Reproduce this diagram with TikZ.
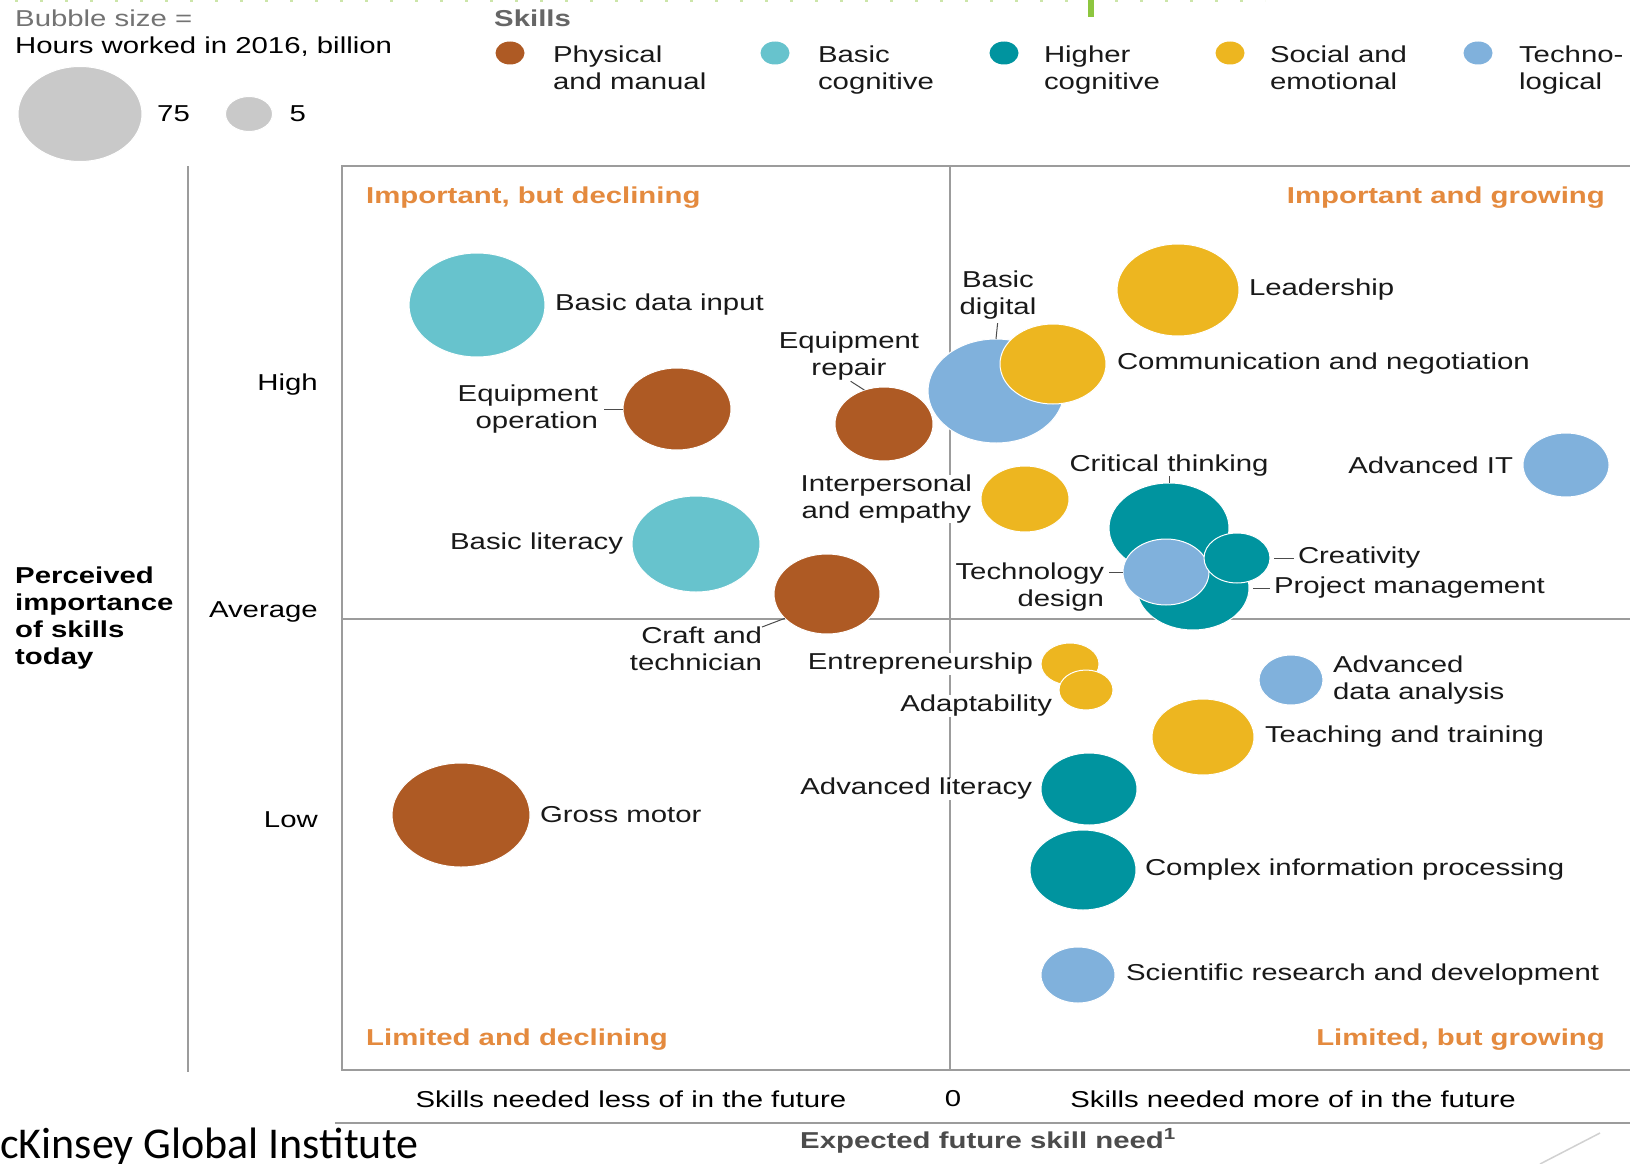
\documentclass[tikz,border=0pt]{standalone}
\usepackage{fontspec}
\setmainfont{Liberation Sans}[FakeStretch=1.276]
\newfontfamily\slidefont{Carlito}
\usetikzlibrary{shapes.geometric,positioning}
\definecolor{manual}{HTML}{AE5A24}
\definecolor{basiccog}{HTML}{67C3CD}
\definecolor{highcog}{HTML}{00949F}
\definecolor{social}{HTML}{EDB620}
\definecolor{techno}{HTML}{80B1DC}
\definecolor{sizegray}{HTML}{C9C9C9}
\definecolor{quadorange}{HTML}{E48A3E}
\definecolor{rulegray}{HTML}{9C9C9C}
\definecolor{titlegreen}{HTML}{8DC63F}
\newcommand{\chartfont}{\fontsize{23}{27}\selectfont}

\begin{document}
\begin{tikzpicture}[x=1pt,y=-1pt,font=\chartfont]
  \tikzstyle{bubble}=[ellipse,draw=white,line width=1pt,inner sep=0pt,outer sep=0pt]
  \tikzstyle{legdot}=[ellipse,inner sep=0pt,minimum width=29pt,minimum height=23pt]
  \tikzstyle{lbl}=[inner sep=0pt,outer sep=0pt,fill=white,text=black!90,align=center]
  \tikzstyle{quad}=[inner sep=0pt,text=quadorange,font=\chartfont\bfseries]
  \tikzstyle{leader}=[draw=black!70,line width=1pt]
  \tikzstyle{axisline}=[draw=rulegray,line width=2pt]
  \tikzstyle{midline}=[draw=rulegray,line width=1.5pt]

  \path[use as bounding box,fill=white] (0,0) rectangle (1630,1164);

  % cut-off title strip
  \draw[titlegreen!45,line width=2pt,dash pattern=on 3pt off 22pt] (15,1) -- (1265,1);
  \fill[titlegreen] (1088,0) rectangle (1094,17);

  % bubble size key
  \node[anchor=base west,inner sep=0pt,text=black!55] (bsize) at (15,27) {Bubble size =};
  \node[anchor=base west,inner sep=0pt] (hours) at (15,53) {Hours worked in 2016, billion};
  \node[bubble,fill=sizegray,minimum width=124pt,minimum height=95pt] (big) at (80,114) {};
  \node[inner sep=0pt,right=15pt of big] (n75) {75};
  \node[bubble,fill=sizegray,minimum width=47pt,minimum height=35pt] (small) at (249,114) {};
  \node[inner sep=0pt,right=17pt of small] (n5) {5};

  % skill categories
  \node[anchor=base west,inner sep=0pt,text=black!60,font=\chartfont\bfseries] (skills) at (494,27) {Skills};
  \node[legdot,fill=manual] (kman) at (510,53) {};
  \node[lbl,align=left,anchor=north west] (kmanl) at (553,46) {Physical\\and manual};
  \node[legdot,fill=basiccog] (kbas) at (775,53) {};
  \node[lbl,align=left,anchor=north west] (kbasl) at (818,46) {Basic\\cognitive};
  \node[legdot,fill=highcog] (khig) at (1004,53) {};
  \node[lbl,align=left,anchor=north west] (khigl) at (1044,46) {Higher\\cognitive};
  \node[legdot,fill=social] (ksoc) at (1230,53) {};
  \node[lbl,align=left,anchor=north west] (ksocl) at (1270,46) {Social and\\emotional};
  \node[legdot,fill=techno] (ktec) at (1478,53) {};
  \node[lbl,align=left,anchor=north west] (ktecl) at (1519,46) {Techno-\\logical};

  % frame and quadrants
  \draw[axisline] (1630,166) -- (342,166) -- (342,1070) -- (1630,1070);
  \draw[midline] (950,166) -- (950,1070);
  \draw[midline] (342,619) -- (1630,619);
  \draw[midline] (188,166) -- (188,1072);
  \draw[axisline] (335,1123) -- (1630,1123);
  \node[quad,anchor=west] (qid) at (366,198) {Important, but declining};
  \node[quad,anchor=east] (qig) at (1605,198) {Important and growing};
  \node[quad,anchor=west] (qld) at (366,1040) {Limited and declining};
  \node[quad,anchor=east] (qlg) at (1605,1040) {Limited, but growing};

  % axes
  \node[anchor=east,inner sep=0pt] (yhigh) at (318,385) {High};
  \node[anchor=east,inner sep=0pt] (yavg) at (318,612) {Average};
  \node[anchor=east,inner sep=0pt] (ylow) at (318,820) {Low};
  \node[anchor=west,inner sep=0pt,align=left,font=\chartfont\bfseries] (ytitle) at (15,618) {Perceived\\importance\\of skills\\today};
  \node[inner sep=0pt] (xless) at (631,1099) {Skills needed less of in the future};
  \node[inner sep=0pt] (xzero) at (953,1099) {0};
  \node[inner sep=0pt] (xmore) at (1293,1099) {Skills needed more of in the future};
  \node[inner sep=0pt,text=black!70,font=\chartfont\bfseries] (xtitle) at (988,1141) {Expected future skill need\textsuperscript{1}};

  % slide footer
  \node[anchor=base west,inner sep=0pt,font=\slidefont\fontsize{44}{50}\selectfont] (mgi) at (0,1158) {cKinsey Global Institute};
  \draw[black!18,line width=1.5pt] (1540,1164) -- (1600,1133);

  % bubbles
  \node[bubble,fill=manual,minimum width=108pt,minimum height=82pt] (eqop) at (677,409) {};
  \node[bubble,fill=manual,minimum width=98pt,minimum height=74pt] (eqrep) at (884,424) {};
  \node[bubble,fill=manual,minimum width=106pt,minimum height=80pt] (craft) at (827,594) {};
  \node[bubble,fill=manual,minimum width=138pt,minimum height=104pt] (gross) at (461,815) {};
  \node[bubble,fill=basiccog,minimum width=136pt,minimum height=104pt] (bdi) at (477,305) {};
  \node[bubble,fill=basiccog,minimum width=128pt,minimum height=96pt] (blit) at (696,544) {};
  \node[bubble,fill=techno,minimum width=136pt,minimum height=104pt] (bdig) at (996,391) {};
  \node[bubble,fill=social,minimum width=106pt,minimum height=80pt] (comm) at (1053,364) {};
  \node[bubble,fill=social,minimum width=122pt,minimum height=92pt] (lead) at (1178,290) {};
  \node[bubble,fill=social,minimum width=88pt,minimum height=66pt] (inter) at (1025,499) {};
  \node[bubble,fill=techno,minimum width=86pt,minimum height=64pt] (ait) at (1566,465) {};
  \node[bubble,fill=highcog,minimum width=112pt,minimum height=84pt] (pm) at (1193,588) {};
  \node[bubble,fill=highcog,minimum width=120pt,minimum height=90pt] (crit) at (1169,528) {};
  \node[bubble,fill=techno,minimum width=86pt,minimum height=66pt] (td) at (1166,572) {};
  \node[bubble,fill=highcog,minimum width=66pt,minimum height=50pt] (cr) at (1237,558) {};
  \node[bubble,fill=social,minimum width=58pt,minimum height=42pt] (ent) at (1070,664) {};
  \node[bubble,fill=social,minimum width=54pt,minimum height=40pt] (adapt) at (1086,690) {};
  \node[bubble,fill=techno,minimum width=64pt,minimum height=50pt] (ada) at (1291,680) {};
  \node[bubble,fill=social,minimum width=102pt,minimum height=76pt] (teach) at (1203,737) {};
  \node[bubble,fill=highcog,minimum width=96pt,minimum height=72pt] (alit) at (1089,789) {};
  \node[bubble,fill=highcog,minimum width=106pt,minimum height=80pt] (cip) at (1083,870) {};
  \node[bubble,fill=techno,minimum width=74pt,minimum height=56pt] (srd) at (1078,975) {};

  % bubble labels
  \node[lbl,right=10pt of bdi] (bdil) {Basic data input};
  \node[lbl,align=right,left=25pt of eqop] (eqopl) {Equipment\\operation};
  \node[lbl] (eqrepl) at (849,356) {Equipment\\repair};
  \node[lbl] (bdigl) at (998,295) {Basic\\digital};
  \node[lbl,right=11pt of comm] (comml) {Communication and negotiation};
  \node[lbl,right=10pt of lead] (leadl) {Leadership};
  \node[lbl,left=9pt of blit] (blitl) {Basic literacy};
  \node[lbl,align=right,anchor=north east] (craftl) at (762,627) {Craft and\\technician};
  \node[lbl,left=9pt of inter] (interl) {Interpersonal\\and empathy};
  \node[lbl,above=7pt of crit] (critl) {Critical thinking};
  \node[lbl,left=10pt of ait] (aitl) {Advanced IT};
  \node[lbl,right=25pt of pm] (pml) {Project management};
  \node[lbl,align=right,anchor=east] (tdl) at (1104,587) {Technology\\design};
  \node[lbl,right=28pt of cr] (crl) {Creativity};
  \node[lbl,left=8pt of ent] (entl) {Entrepreneurship};
  \node[lbl,anchor=east] (adaptl) at (1052,706) {Adaptability};
  \node[lbl,align=left,right=10pt of ada] (adal) {Advanced\\data analysis};
  \node[lbl,right=11pt of teach] (teachl) {Teaching and training};
  \node[lbl,left=9pt of alit] (alitl) {Advanced literacy};
  \node[lbl,right=10pt of gross] (grossl) {Gross motor};
  \node[lbl,right=9pt of cip] (cipl) {Complex information processing};
  \node[lbl,right=11pt of srd] (srdl) {Scientific research and development};

  % leader lines
  \draw[leader,shorten <=6pt] (eqopl.east) -- (eqop.west);
  \draw[leader,shorten <=2pt] (eqrepl.south) -- (eqrep.120);
  \draw[leader,shorten <=4pt] (bdigl.south) -- (bdig.north);
  \draw[leader] (craftl.north east) -- (craft.210);
  \draw[leader] (critl.south) -- (crit.north);
  \draw[leader,shorten <=4pt,shorten >=4pt] (pm.east) -- (pml.west);
  \draw[leader,shorten <=5pt] (tdl.east |- td.west) -- (td.west);
  \draw[leader,shorten <=4pt,shorten >=4pt] (cr.east) -- (crl.west);
\end{tikzpicture}
\end{document}
